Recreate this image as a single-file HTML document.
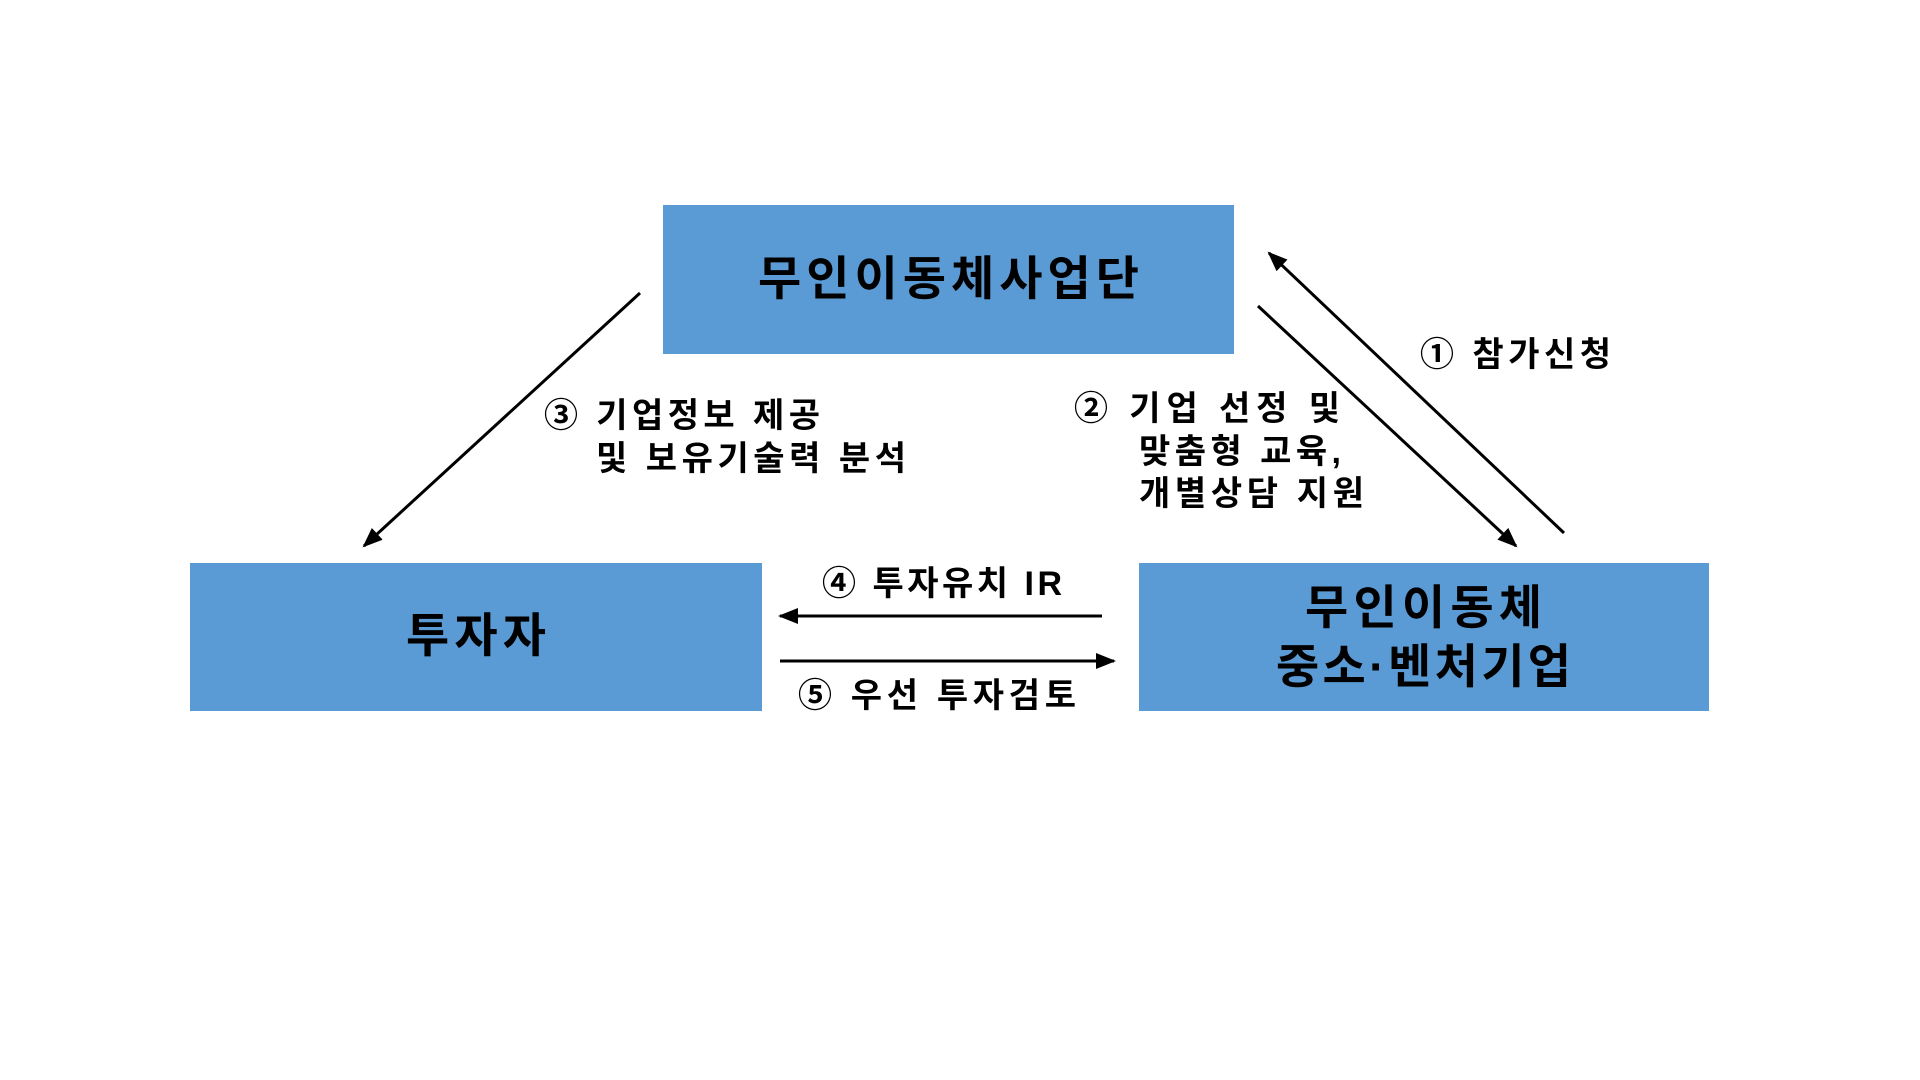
<!DOCTYPE html>
<html><head><meta charset="utf-8"><style>html,body{margin:0;padding:0;background:#fff}svg{display:block}
text{font-family:"Liberation Sans","Noto Sans CJK KR","NanumGothic",sans-serif;font-weight:bold;fill:#000}</style></head>
<body>
<svg width="1920" height="1080" viewBox="0 0 1920 1080" xmlns="http://www.w3.org/2000/svg">
<defs>
<marker id="b" markerWidth="20" markerHeight="16" refX="18" refY="8" orient="auto" markerUnits="userSpaceOnUse"><path d="M0,0 L20,8 L0,16 z" fill="#000"/></marker></defs>
<rect x="663" y="205" width="571" height="149" fill="#5B9BD5"/>
<rect x="190" y="563" width="572" height="148" fill="#5B9BD5"/>
<rect x="1139" y="563" width="570" height="148" fill="#5B9BD5"/>
<g font-size="47" lengthAdjust="spacing">
<text x="758" y="295" textLength="381" lengthAdjust="spacing">무인이동체사업단</text>
<text x="406" y="652" textLength="140" lengthAdjust="spacing">투자자</text>
<text x="1305" y="624" textLength="237" lengthAdjust="spacing">무인이동체</text>
<text x="1276" y="683" textLength="295" lengthAdjust="spacing">중소·벤처기업</text>
</g>
<g stroke="#000" stroke-width="3" fill="none">
<line x1="640" y1="293" x2="364" y2="546" marker-end="url(#b)"/>
<line x1="1258" y1="306" x2="1516" y2="546" marker-end="url(#b)"/>
<line x1="1564" y1="533" x2="1269" y2="253" marker-end="url(#b)"/>
<line x1="1102" y1="616" x2="780" y2="616" marker-end="url(#b)"/>
<line x1="780" y1="661" x2="1114" y2="661" marker-end="url(#b)"/>
</g>
<g font-size="34">
<text x="1420" y="366" textLength="191" lengthAdjust="spacing">① 참가신청</text>
<text x="1074" y="420" textLength="266" lengthAdjust="spacing">②  기업 선정 및</text>
<text x="1139" y="463" textLength="202" lengthAdjust="spacing">맞춤형 교육,</text>
<text x="1139" y="505" textLength="225" lengthAdjust="spacing">개별상담 지원</text>
<text x="544" y="427" textLength="276" lengthAdjust="spacing">③ 기업정보 제공</text>
<text x="596" y="470" textLength="310" lengthAdjust="spacing">및 보유기술력 분석</text>
<text x="822" y="595" textLength="240" lengthAdjust="spacing">④ 투자유치 IR</text>
<text x="798" y="707" textLength="278" lengthAdjust="spacing">⑤ 우선 투자검토</text>
</g>
</svg>
</body></html>
